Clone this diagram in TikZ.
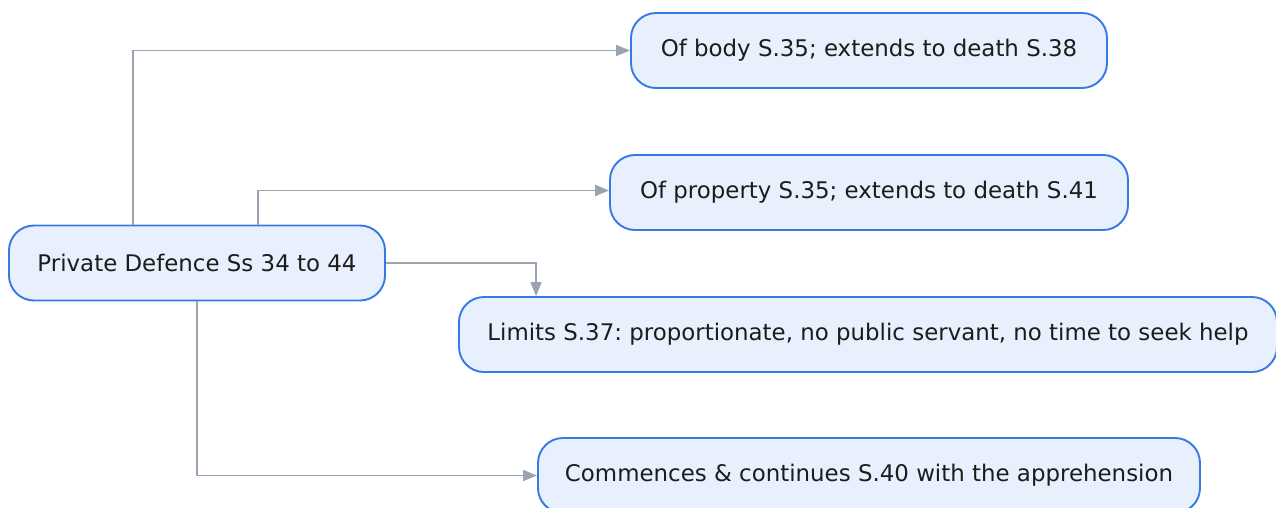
\documentclass[tikz,border=0pt]{standalone}
\usepackage{fontspec}
\setmainfont{DejaVu Sans}
\usetikzlibrary{arrows.meta,calc}
\definecolor{boxfill}{HTML}{E8F0FD}
\definecolor{boxline}{HTML}{3479E4}
\definecolor{linkgray}{HTML}{9AA3AF}
\definecolor{ink}{HTML}{1C1C1C}
\frenchspacing
\begin{document}
\begin{tikzpicture}[x=1pt,y=-1pt,
  topic/.style={draw=boxline, fill=boxfill, line width=1.9pt, rounded corners=25pt,
    inner sep=0pt, minimum height=75pt, text=ink,
    font=\fontsize{22.9pt}{27pt}\selectfont},
  conn/.style={draw=linkgray, line width=1.8pt,
    -{Triangle[length=14pt,width=11pt]}}]
\useasboundingbox (0,0) rectangle (1276,507);
\node[topic, minimum width=376pt] (root) at (197,263) {Private Defence Ss 34 to 44};
\node[topic, minimum width=476pt] (body) at (869,50.5) {Of body S.35; extends to death S.38};
\node[topic, minimum width=518pt] (prop) at (869,192.5) {Of property S.35; extends to death S.41};
\node[topic, minimum width=818pt] (lim) at (868,334.5) {Limits S.37: proportionate, no public servant, no time to seek help};
\node[topic, minimum width=662pt] (comm) at (869,475.5) {Commences \& continues S.40 with the apprehension};
\draw[conn] ($(root.north west)+(125,0)$) |- (body.west);
\draw[conn] ($(root.north west)+(250,0)$) |- ($(prop.west)+(0,-2)$);
\draw[conn] (root.east) -| ($(lim.north west)+(78,0)$);
\draw[conn] (root.south) |- (comm.west);
\end{tikzpicture}
\end{document}
